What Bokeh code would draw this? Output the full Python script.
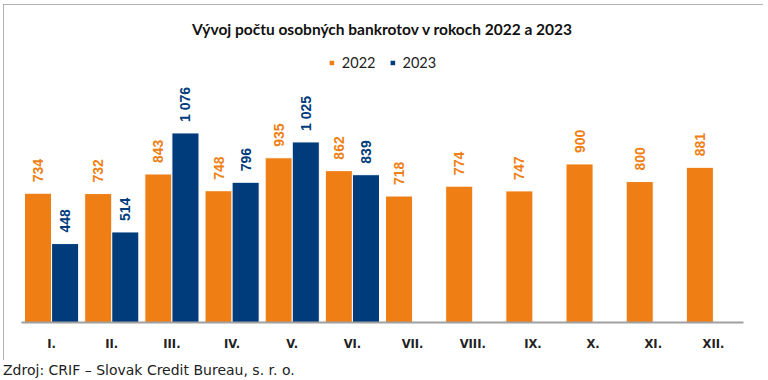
from math import pi
import numpy as np
from bokeh.plotting import figure
from bokeh.layouts import column
from bokeh.models import (ColumnDataSource, FactorRange, LabelSet, Legend, LegendItem,
                          Range1d, Div)
from bokeh.core.properties import value
from bokeh.transform import dodge
from bokeh.embed import file_html
from bokeh.resources import INLINE

months = ["I.", "II.", "III.", "IV.", "V.", "VI.", "VII.", "VIII.", "IX.", "X.", "XI.", "XII."]
values_2022 = [734, 732, 843, 748, 935, 862, 718, 774, 747, 900, 800, 881]
values_2023 = [448, 514, 1076, 796, 1025, 839, None, None, None, None, None, None]

ORANGE = "#EF7F15"
BLUE = "#003B7B"


def fmt(v):
    return "" if v is None else f"{v:,}".replace(",", " ")


src = ColumnDataSource(dict(
    month=months,
    v22=values_2022,
    v23=[np.nan if v is None else v for v in values_2023],
    l22=[fmt(v) for v in values_2022],
    l23=[fmt(v) for v in values_2023],
))

p = figure(width=760, height=356, output_backend="svg", toolbar_location=None,
           x_range=FactorRange(factors=months, range_padding=0),
           y_range=Range1d(0, 1578), y_axis_location=None,
           min_border_left=18, min_border_right=20, min_border_top=40,
           min_border_bottom=38, margin=(4, 5, 0, 3),
           styles={"outline": "2px solid #9a9a9a", "outline-offset": "-2px"})
p.background_fill_color = "white"
p.border_fill_color = "white"
p.outline_line_color = None
p.grid.visible = False

r22 = p.vbar(x=dodge("month", -0.225, range=p.x_range), top="v22", width=0.45,
             source=src, fill_color=ORANGE, line_color="white", line_width=1)
r23 = p.vbar(x=dodge("month", 0.225, range=p.x_range), top="v23", width=0.45,
             source=src, fill_color=BLUE, line_color="white", line_width=1)

for col, lab, off, color in (("v22", "l22", -0.225, ORANGE), ("v23", "l23", 0.225, BLUE)):
    ls = LabelSet(x=dodge("month", off, range=p.x_range), y=col, text=lab, source=src,
                  angle=pi / 2, text_align="left", text_baseline="middle",
                  y_offset=11, text_color=color, text_font=value("Liberation Sans"),
                  text_font_style="bold", text_font_size="14px")
    p.add_layout(ls)

xa = p.xaxis[0]
xa.axis_line_color = "#A0A0A0"
xa.axis_line_width = 2
xa.major_tick_line_color = None
xa.minor_tick_line_color = None
xa.major_label_standoff = 8
xa.major_label_text_font = "DejaVu Sans"
xa.major_label_text_font_style = "bold"
xa.major_label_text_font_size = "11.5px"
xa.major_label_text_color = "#222222"

p.title.text = "Vývoj počtu osobných bankrotov v rokoch 2022 a 2023"
p.title.align = "center"
p.title.text_font = "Lato"
p.title.text_font_style = "bold"
p.title.text_font_size = "15.5px"
p.title.text_color = "#111111"
p.title.standoff = 14

legend = Legend(items=[LegendItem(label="2022", renderers=[r22]),
                       LegendItem(label="2023", renderers=[r23])],
                location="top_center", orientation="horizontal",
                glyph_width=7, glyph_height=7, label_height=14, label_standoff=7,
                spacing=13, padding=0, margin=10,
                label_text_font="Lato", label_text_font_size="14.5px",
                label_text_color="#222222",
                background_fill_alpha=0, border_line_color=None)
p.add_layout(legend)

source_div = Div(text="Zdroj: CRIF – Slovak Credit Bureau, s. r. o.",
                 width=420, height=17, margin=(2, 0, 0, 3),
                 styles={"font-family": "DejaVu Sans", "font-size": "14px",
                         "line-height": "17px", "color": "#222222"})

layout = column(p, source_div)

open("out.html", "w").write(file_html(layout, INLINE))
